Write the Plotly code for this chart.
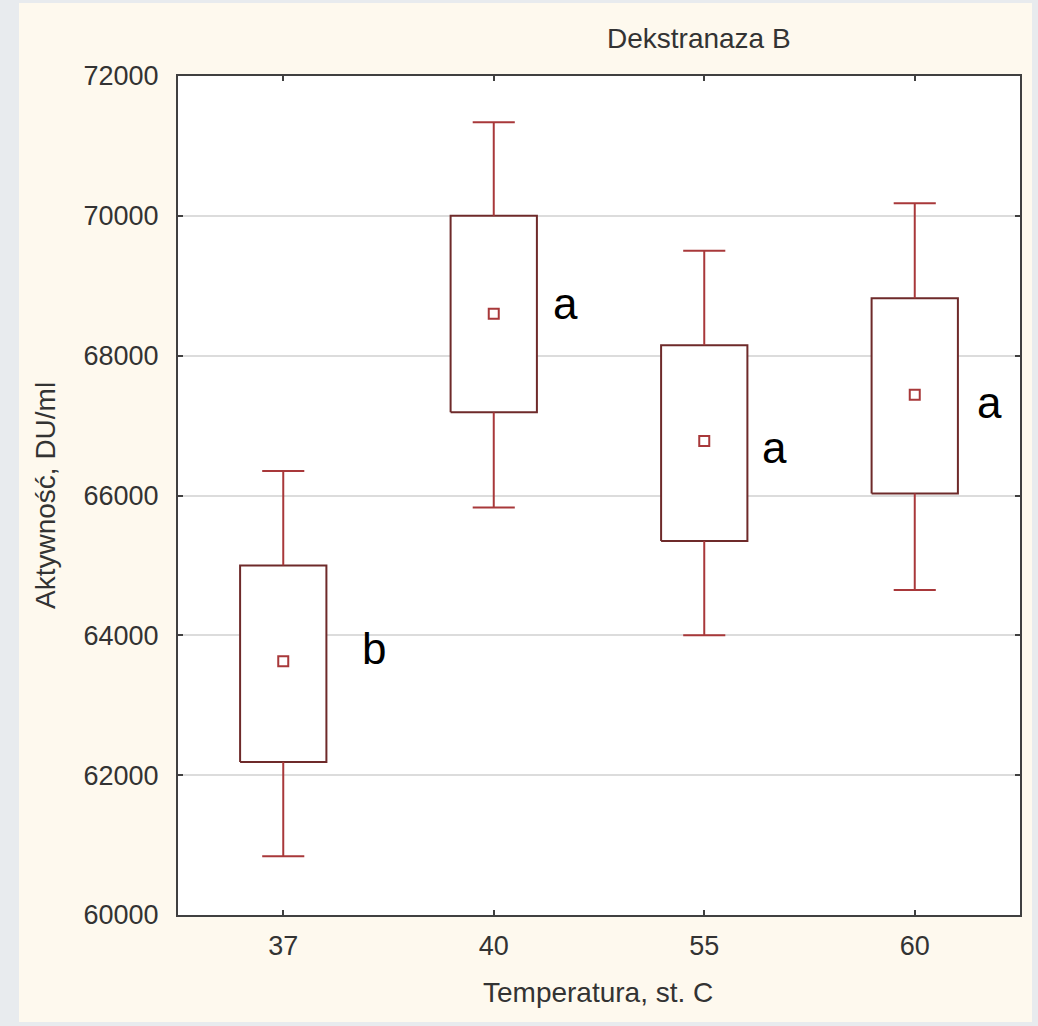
import plotly.graph_objects as go

# ---- data ----
categories = ["37", "40", "55", "60"]
means = [63630, 68600, 66780, 67440]
box_low = [62190, 67190, 65350, 66030]
box_high = [65000, 70000, 68150, 68820]
whisker_low = [60840, 65830, 64000, 64650]
whisker_high = [66350, 71340, 69500, 70180]
group_labels = ["b", "a", "a", "a"]
y_ticks = [60000, 62000, 64000, 66000, 68000, 70000, 72000]

# ---- geometry / style ----
W, H = 1038, 1026
ML, MR, MT, MB = 178, 18, 76, 111
PW, PH = W - ML - MR, H - MT - MB
BOX_HALF = 0.205
CAP_HALF = 0.1
BOX_COLOR = "#6E2A2A"
WHISK_COLOR = "#A8383A"
TEXT_COLOR = "#333333"
FONT = "Liberation Sans, Arial, sans-serif"


def px_x(px):
    return (px - ML) / PW


def px_y(py):
    return (H - MB - py) / PH


pos = list(range(len(categories)))
fig = go.Figure()

# boxes (white filled rectangles)
for i in pos:
    fig.add_trace(go.Scatter(
        x=[i - BOX_HALF, i + BOX_HALF, i + BOX_HALF, i - BOX_HALF, i - BOX_HALF],
        y=[box_low[i], box_low[i], box_high[i], box_high[i], box_low[i]],
        mode="lines", fill="toself", fillcolor="white",
        line=dict(color=BOX_COLOR, width=2), hoverinfo="skip", showlegend=False))

# whiskers
wx, wy = [], []
for i in pos:
    wx += [i, i, None, i, i, None]
    wy += [box_high[i], whisker_high[i], None, box_low[i], whisker_low[i], None]
fig.add_trace(go.Scatter(x=wx, y=wy, mode="lines",
                         line=dict(color=WHISK_COLOR, width=2),
                         hoverinfo="skip", showlegend=False))

# caps
cx, cy = [], []
for i in pos:
    cx += [i - CAP_HALF, i + CAP_HALF, None, i - CAP_HALF, i + CAP_HALF, None]
    cy += [whisker_high[i], whisker_high[i], None, whisker_low[i], whisker_low[i], None]
fig.add_trace(go.Scatter(x=cx, y=cy, mode="lines",
                         line=dict(color=WHISK_COLOR, width=2),
                         hoverinfo="skip", showlegend=False))

# means
fig.add_trace(go.Scatter(x=pos, y=means, mode="markers",
                         marker=dict(symbol="square-open", size=10,
                                     color=WHISK_COLOR, line=dict(width=2, color=WHISK_COLOR)),
                         showlegend=False))

# group letters
label_xshift = [91, 72, 70, 75]
label_yshift = [13, 10, -7, -8]
for i in pos:
    fig.add_annotation(x=i, y=means[i], text=group_labels[i], showarrow=False,
                       xshift=label_xshift[i], yshift=label_yshift[i],
                       xanchor="center", yanchor="middle",
                       font=dict(family=FONT, size=44, color="black"))

# titles
fig.add_annotation(xref="paper", yref="paper", x=px_x(699), y=px_y(38),
                   text="Dekstranaza B", showarrow=False, xanchor="center", yanchor="middle",
                   font=dict(family=FONT, size=28, color=TEXT_COLOR))
fig.add_annotation(xref="paper", yref="paper", x=px_x(598), y=px_y(993),
                   text="Temperatura, st. C", showarrow=False, xanchor="center", yanchor="middle",
                   font=dict(family=FONT, size=28, color=TEXT_COLOR))
fig.add_annotation(xref="paper", yref="paper", x=px_x(45), y=px_y(496),
                   text="Aktywność, DU/ml", showarrow=False, textangle=-90,
                   xanchor="center", yanchor="middle",
                   font=dict(family=FONT, size=28, color=TEXT_COLOR))

# background panels
fig.add_shape(type="rect", xref="paper", yref="paper", layer="below",
              x0=px_x(19), x1=px_x(1032), y0=px_y(1022), y1=px_y(3),
              fillcolor="#FEF9EE", line=dict(width=0))
fig.add_shape(type="rect", xref="paper", yref="paper", layer="below",
              x0=0, x1=1, y0=0, y1=1, fillcolor="white", line=dict(width=0))

fig.update_layout(
    width=W, height=H, autosize=False,
    margin=dict(l=ML, r=MR, t=MT, b=MB, pad=0),
    paper_bgcolor="#E8EBEE", plot_bgcolor="white",
    font=dict(family=FONT, size=28, color=TEXT_COLOR),
    showlegend=False,
)
fig.update_xaxes(range=[-0.5, len(categories) - 0.5], tickvals=pos, ticktext=categories,
                 showgrid=False, zeroline=False,
                 showline=True, linecolor="#404040", linewidth=2, mirror="ticks",
                 ticks="inside", ticklen=5, tickwidth=2, tickcolor="#404040",
                 tickfont=dict(family=FONT, size=27, color=TEXT_COLOR),
                 ticklabelstandoff=6)
fig.update_yaxes(range=[y_ticks[0], y_ticks[-1]], tickvals=y_ticks, tickformat="d",
                 showgrid=True, gridcolor="#DCDCDC", gridwidth=2, zeroline=False,
                 showline=True, linecolor="#404040", linewidth=2, mirror="ticks",
                 ticks="inside", ticklen=5, tickwidth=2, tickcolor="#404040",
                 tickfont=dict(family=FONT, size=27, color=TEXT_COLOR),
                 ticklabelstandoff=12)

fig.write_html("out.html",
               config={"displayModeBar": False},
               post_script="document.body.style.margin='0px';"
                           "document.body.style.overflow='hidden';"
                           "document.body.style.background='#E8EBEE';")
